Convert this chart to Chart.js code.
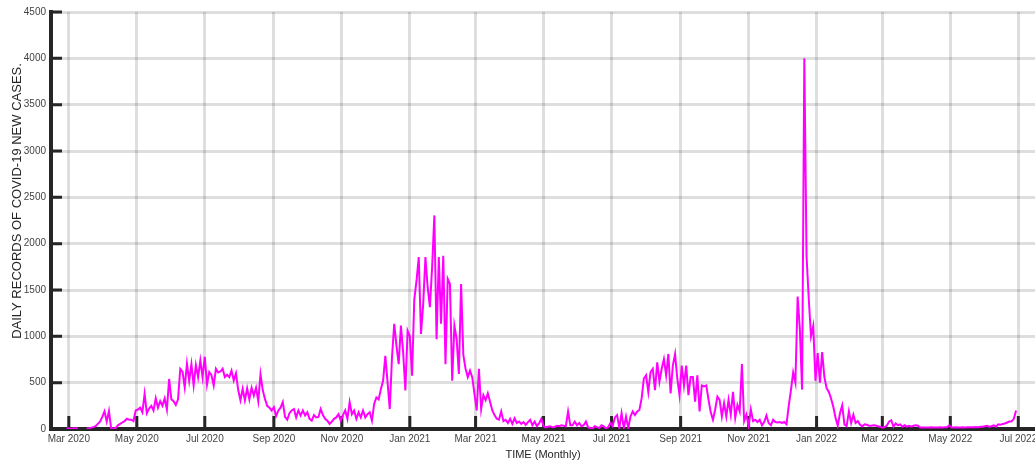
<!DOCTYPE html>
<html>
<head>
<meta charset="utf-8">
<title>Daily COVID-19 new cases</title>
<script src="https://cdn.jsdelivr.net/npm/chart.js@4.4.1/dist/chart.umd.min.js"></script>
<style>
  html,
  body {
    margin: 0;
    padding: 0;
    background: #fff;
  }
  #wrap {
    position: relative;
    width: 1035px;
    height: 464px;
  }
</style>
</head>
<body>
<div id="wrap"><canvas id="casesChart"></canvas></div>
<script>
// days are counted from 1 Mar 2020, one reading every 2 days
const firstDay = -2;
const dayStep = 2;
const dailyCases = [
  5,
  5, 3, 8, 5, 10,
  null, null, null, 5, 8,
  15, 20, 30, 55, 80,
  130, 190, 80, 195, 5,
  5, 10, 40, 55, 70,
  85, 110, 100, 100, 85,
  200, 210, 230, 180, 380,
  170, 220, 250, 200, 330,
  230, 300, 250, 330, 210,
  540, 320, 300, 260, 320,
  650, 620, 450, 705, 520,
  700, 470, 690, 560, 740,
  560, 780, 480, 615, 580,
  470, 650, 610, 620, 650,
  560, 585, 560, 630, 525,
  600, 420, 310, 435, 310,
  440, 320, 445, 360, 445,
  300, 590, 420, 325, 250,
  230, 200, 235, 140, 200,
  230, 290, 130, 100, 170,
  200, 215, 125, 200, 145,
  200, 145, 180, 110, 90,
  150, 125, 130, 215, 150,
  110, 90, 55, 80, 110,
  125, 160, 90, 150, 200,
  110, 290, 160, 200, 110,
  180, 125, 200, 125, 160,
  180, 90, 270, 340, 320,
  430, 520, 790, 505, 215,
  775, 1135, 900, 700, 1115,
  830, 415, 1060, 1000, 575,
  1400, 1600, 1855, 1025, 1350,
  1855, 1530, 1315, 1745, 2305,
  970, 1855, 1135, 1870, 700,
  1620, 1565, 520, 1115, 970,
  595, 1565, 800, 650, 560,
  630, 560, 380, 200, 650,
  215, 365, 310, 385, 295,
  200, 150, 110, 100, 190,
  85, 100, 65, 110, 55,
  115, 65, 80, 55, 75,
  45, 75, 100, 40, 80,
  30, 60, 110, 30, 18,
  25, 30, 18, 22, 35,
  30, 40, 35, 30, 190,
  40, 40, 80, 40, 65,
  30, 40, 80, 18, 10,
  5, 30, 20, 10, 40,
  30, 5, 20, 65, 30,
  125, 150, 10, 170, 10,
  135, 10, 135, 190, 150,
  190, 205, 330, 545, 580,
  400, 615, 650, 420, 720,
  510, 650, 755, 580, 810,
  385, 685, 810, 545, 365,
  685, 470, 685, 365, 560,
  560, 295, 580, 190, 470,
  460, 470, 320, 180, 100,
  210, 350, 315, 135, 280,
  135, 315, 155, 400, 120,
  260, 190, 700, 85, 155,
  30, 210, 85, 100, 75,
  100, 40, 75, 145, 65,
  40, 100, 75, 70, 75,
  65, 75, 50, 250, 420,
  610, 500, 1430, 1075, 425,
  4000, 1865, 1400, 1000, 1110,
  520, 820, 500, 830, 560,
  440, 400, 330, 240, 120,
  35, 170, 255, 50, 30,
  190, 65, 155, 65, 85,
  45, 30, 50, 45, 35,
  35, 40, 38, 30, 25,
  15, 20, 35, 80, 95,
  25, 60, 40, 50, 25,
  40, 25, 35, 25, 35,
  40, 35, 15, 15, 15,
  15, 15, 18, 15, 15,
  15, 18, 15, 20, 20,
  40, 15, 15, 18, 15,
  15, 18, 15, 20, 18,
  20, 18, 22, 20, 25,
  25, 30, 35, 25, 30,
  40, 25, 50, 45, 55,
  60, 70, 80, 82, 110,
  200,
];

// month ticks (day offset from 1 Mar 2020)
const monthDays = [0, 61, 122, 184, 245, 306, 365, 426, 487, 549, 610, 671, 730, 791, 852];
const monthLabels = [
  "Mar 2020", "May 2020", "Jul 2020", "Sep 2020", "Nov 2020",
  "Jan 2021", "Mar 2021", "May 2021", "Jul 2021", "Sep 2021",
  "Nov 2021", "Jan 2022", "Mar 2022", "May 2022", "Jul 2022",
];
const yTicks = [0, 500, 1000, 1500, 2000, 2500, 3000, 3500, 4000, 4500];
const yTitle = "DAILY RECORDS OF COVID-19 NEW CASES.";

const FONT = "'Liberation Sans', Arial, Helvetica, sans-serif";
const COLOR = {
  line: "#ff00ff",
  axis: "#262626",
  grid: "rgba(0, 0, 0, 0.13)",
  tickText: "#444",
  title: "#262626",
};

// matlab style ticks pointing into the plot
const inwardTicks = {
  id: "inwardTicks",
  beforeDatasetsDraw(chart) {
    const { ctx, chartArea, scales } = chart;
    ctx.save();
    ctx.strokeStyle = COLOR.axis;
    ctx.lineWidth = 3;
    ctx.beginPath();
    monthDays.forEach(d => {
      const px = scales.x.getPixelForValue(d);
      ctx.moveTo(px, chartArea.bottom);
      ctx.lineTo(px, chartArea.bottom - 13);
    });
    yTicks.forEach(v => {
      const py = scales.y.getPixelForValue(v);
      ctx.moveTo(chartArea.left, py);
      ctx.lineTo(chartArea.left + 11, py);
    });
    ctx.stroke();
    ctx.restore();
  },
  // y label sits a bit above the middle of the axis in the original
  afterDraw(chart) {
    const { ctx } = chart;
    ctx.save();
    ctx.translate(17, 201);
    ctx.rotate(-Math.PI / 2);
    ctx.fillStyle = COLOR.title;
    ctx.font = "13px " + FONT;
    ctx.textAlign = "center";
    ctx.textBaseline = "middle";
    ctx.fillText(yTitle, 0, 0);
    ctx.restore();
  },
};

const points = dailyCases.map((v, i) => ({ x: firstDay + i * dayStep, y: v }));

new Chart(document.getElementById("casesChart"), {
  type: "line",
  data: {
    datasets: [
      {
        label: "Daily new cases",
        data: points,
        borderColor: COLOR.line,
        backgroundColor: COLOR.line,
        borderWidth: 2,
        pointRadius: 0,
        tension: 0,
        spanGaps: false,
        fill: false,
      },
    ],
  },
  options: {
    responsive: true,
    maintainAspectRatio: false,
    animation: false,
    layout: {
      padding: { top: 12, left: 0, right: 0, bottom: 0 },
    },
    plugins: {
      legend: { display: false },
      title: { display: false },
      tooltip: { enabled: false },
    },
    scales: {
      x: {
        type: "linear",
        min: -16,
        max: 867,
        afterBuildTicks: scale => {
          scale.ticks = monthDays.map(d => ({ value: d }));
        },
        afterFit: scale => {
          scale.height = 35;
          scale.paddingLeft = 0;
          scale.paddingRight = 0;
        },
        grid: {
          color: COLOR.grid,
          lineWidth: 3,
          drawTicks: false,
        },
        border: { display: true, color: COLOR.axis, width: 4 },
        ticks: {
          autoSkip: false,
          maxRotation: 0,
          padding: 4,
          color: COLOR.tickText,
          font: { family: FONT, size: 10 },
          callback: value => monthLabels[monthDays.indexOf(value)],
        },
        title: {
          display: true,
          text: "TIME (Monthly)",
          color: COLOR.title,
          font: { family: FONT, size: 11 },
          padding: { top: 0, bottom: 2 },
        },
      },
      y: {
        min: 0,
        max: 4500,
        afterBuildTicks: scale => {
          scale.ticks = yTicks.map(v => ({ value: v }));
        },
        afterFit: scale => {
          scale.width = 51;
          scale.paddingTop = 0;
          scale.paddingBottom = 0;
        },
        grid: {
          color: COLOR.grid,
          lineWidth: 3,
          drawTicks: false,
        },
        border: { display: true, color: COLOR.axis, width: 4 },
        ticks: {
          padding: 5,
          color: COLOR.tickText,
          font: { family: FONT, size: 10 },
          callback: value => String(value),
        },
      },
    },
  },
  plugins: [inwardTicks],
});
</script>
</body>
</html>
